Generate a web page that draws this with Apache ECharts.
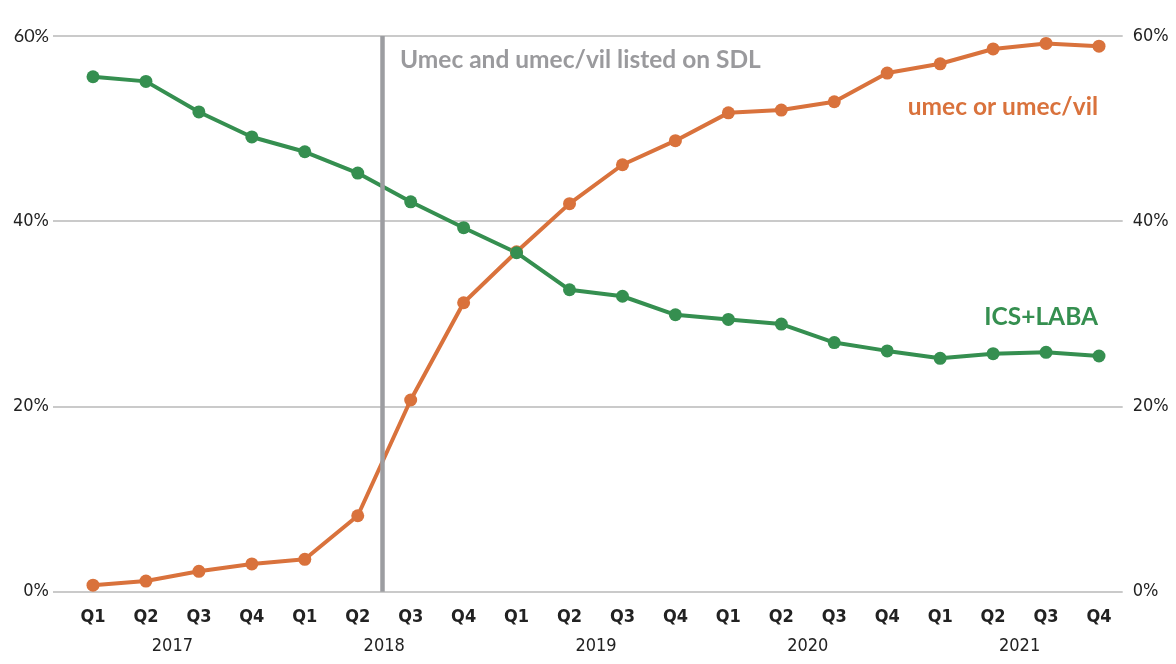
<!DOCTYPE html>
<html>
<head>
<meta charset="utf-8">
<script src="https://cdn.jsdelivr.net/npm/echarts@6/dist/echarts.min.js"></script>
<style>
html,body{margin:0;padding:0;background:#fff;}
#chart{width:1176px;height:664px;}
</style>
</head>
<body>
<div id="chart"></div>
<script>
const quarters = ['Q1','Q2','Q3','Q4','Q1','Q2','Q3','Q4','Q1','Q2','Q3','Q4','Q1','Q2','Q3','Q4','Q1','Q2','Q3','Q4'];
const years = ['2017','2018','2019','2020','2021'];
const yearPositions = [1.5, 5.5, 9.5, 13.5, 17.5];
const umecValues = [0.7, 1.15, 2.2, 3.0, 3.5, 8.2, 20.7, 31.2, 36.7, 41.9, 46.1, 48.7, 51.7, 52.0, 52.9, 56.0, 57.0, 58.6, 59.2, 58.9];
const icsLabaValues = [55.6, 55.1, 51.8, 49.1, 47.5, 45.2, 42.1, 39.3, 36.6, 32.6, 31.9, 29.9, 29.4, 28.9, 26.9, 26.0, 25.2, 25.7, 25.85, 25.45];
const yTicks = [0, 20, 40, 60];
const listingPosition = 5.46;

const condensed = "'DejaVu Sans Condensed','DejaVu Sans',sans-serif";
const STRETCH = 'condensed';
const GREEN = '#358f50';
const ORANGE = '#d9723c';

const chart = echarts.init(document.getElementById('chart'));
const pairs = arr => arr.map((v, i) => [i, v]);

chart.setOption({
  animation: false,
  backgroundColor: '#fff',
  grid: [
    {left: 53, right: 53.3, top: 36, bottom: 72.3, outerBoundsMode: 'none'},
    {left: 93, right: 77, top: 36, bottom: 72.3, outerBoundsMode: 'none'}
  ],
  xAxis: [
    {gridIndex: 0, type: 'value', min: 0, max: 1, show: false},
    {
      gridIndex: 1, type: 'value', min: 0, max: 19, interval: 1,
      axisLine: {show: false}, axisTick: {show: false}, splitLine: {show: false},
      axisLabel: {
        margin: 17, fontFamily: condensed, fontStyle: STRETCH, fontWeight: 'bold', fontSize: 18, color: '#222',
        formatter: v => quarters[v] || ''
      }
    },
    {
      gridIndex: 1, type: 'value', min: 0, max: 19, position: 'bottom',
      axisLine: {show: false}, axisTick: {show: false}, splitLine: {show: false},
      axisLabel: {
        margin: 46, fontFamily: condensed, fontStyle: STRETCH, fontSize: 18, color: '#222',
        customValues: yearPositions,
        formatter: v => { const k = yearPositions.indexOf(v); return k >= 0 ? years[k] : ''; }
      }
    }
  ],
  yAxis: [
    {
      gridIndex: 0, type: 'value', min: 0, max: 60, interval: 20, position: 'left',
      axisLine: {show: false}, axisTick: {show: false},
      splitLine: {show: true, lineStyle: {color: '#b9b9b9', width: 1.5}},
      axisLabel: {
        margin: 4, fontFamily: condensed, fontStyle: STRETCH, fontSize: 18, color: '#222',
        formatter: v => v === 60 ? '{a|60%}' : v + '%',
        rich: {a: {fontFamily: 'Lato', fontSize: 18, color: '#222'}}
      }
    },
    {
      gridIndex: 0, type: 'value', min: 0, max: 60, interval: 20, position: 'right',
      axisLine: {show: false}, axisTick: {show: false}, splitLine: {show: false},
      axisLabel: {margin: 10, fontFamily: condensed, fontStyle: STRETCH, fontSize: 18, color: '#222', formatter: v => v + '%'}
    },
    {gridIndex: 1, type: 'value', min: 0, max: 60, show: false}
  ],
  series: [
    {
      name: 'umec or umec/vil', type: 'line', xAxisIndex: 1, yAxisIndex: 2,
      data: pairs(umecValues), symbol: 'circle', symbolSize: 13,
      lineStyle: {color: ORANGE, width: 4}, itemStyle: {color: ORANGE}, z: 3,
      markLine: {
        silent: true, symbol: ['none', 'none'], label: {show: false},
        lineStyle: {color: '#9c9da1', width: 4.5, type: 'solid'},
        data: [{xAxis: listingPosition}]
      }
    },
    {
      name: 'ICS+LABA', type: 'line', xAxisIndex: 1, yAxisIndex: 2,
      data: pairs(icsLabaValues), symbol: 'circle', symbolSize: 13,
      lineStyle: {color: GREEN, width: 4}, itemStyle: {color: GREEN}, z: 3
    }
  ],
  graphic: [
    {type: 'text', left: 400, top: 48, style: {text: 'Umec and umec/vil listed on SDL', font: 'bold 24.5px Lato', fill: '#9a9a9d'}},
    {type: 'text', right: 78, top: 95, style: {text: 'umec or umec/vil', font: 'bold 24.5px Lato', fill: ORANGE}},
    {type: 'text', right: 78, top: 305, style: {text: 'ICS+LABA', font: 'bold 24.5px Lato', fill: GREEN}}
  ]
});
</script>
</body>
</html>
